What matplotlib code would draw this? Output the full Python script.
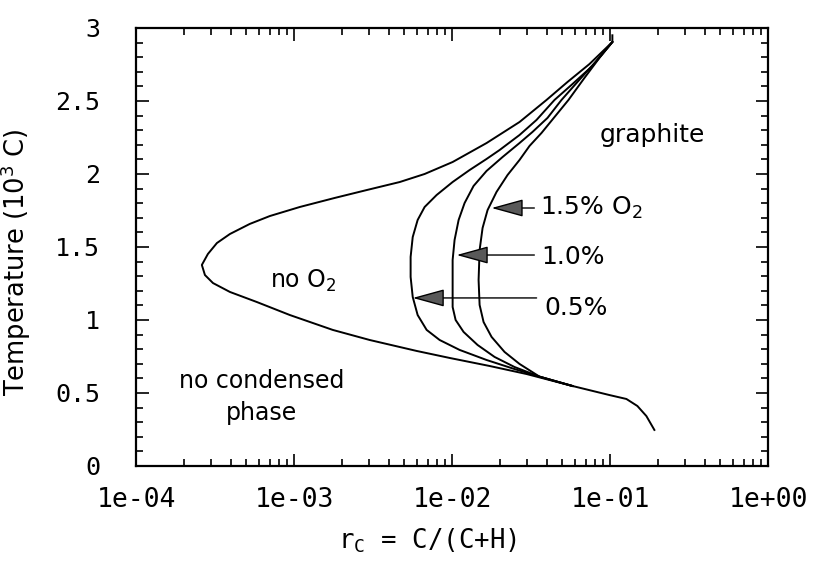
import matplotlib
matplotlib.use("Agg")
import matplotlib.pyplot as plt
import matplotlib.ticker as ticker

# Carbon fraction r_C and temperature (10^3 C).
no_o2_r = [0.1035, 0.1035, 0.0741, 0.0538, 0.03963, 0.02675, 0.01655, 0.01009,
           0.00671, 0.00467, 0.002885, 0.001811, 0.001088, 0.000703, 0.000525, 0.000393,
           0.000325, 0.000285, 0.000261, 0.000273, 0.000307, 0.000393, 0.000582, 0.000941,
           0.001759, 0.003013, 0.005972, 0.00966, 0.01729, 0.02962, 0.05785, 0.0991,
           0.1270, 0.1490, 0.1699, 0.1909]
no_o2_t = [2.95, 2.904, 2.753, 2.630, 2.507, 2.356, 2.212, 2.082,
           2.000, 1.945, 1.890, 1.836, 1.774, 1.712, 1.658, 1.589,
           1.527, 1.452, 1.377, 1.308, 1.253, 1.192, 1.123, 1.034,
           0.932, 0.863, 0.788, 0.740, 0.685, 0.630, 0.548, 0.486,
           0.459, 0.411, 0.342, 0.247]

o2_05_r = [0.1035, 0.0774, 0.05785, 0.04453, 0.03425, 0.02675, 0.0200, 0.01655, 0.01292,
           0.01009, 0.00799, 0.00671, 0.00606, 0.00564, 0.00547, 0.00547, 0.00564, 0.00606,
           0.00691, 0.00835, 0.01117, 0.01655, 0.02487, 0.03579, 0.05785]
o2_05_t = [2.904, 2.740, 2.616, 2.507, 2.370, 2.267, 2.164, 2.103, 2.027,
           1.945, 1.856, 1.774, 1.685, 1.568, 1.432, 1.295, 1.158, 1.034,
           0.932, 0.863, 0.795, 0.726, 0.664, 0.612, 0.548]

o2_10_r = [0.1035, 0.0808, 0.0622, 0.04930, 0.04021, 0.03232, 0.02675, 0.02088, 0.01655,
           0.01369, 0.01201, 0.01101, 0.01038, 0.01009, 0.01009, 0.01009, 0.01054, 0.01184,
           0.01451, 0.01859, 0.02487, 0.03579, 0.05785]
o2_10_t = [2.904, 2.767, 2.630, 2.507, 2.384, 2.288, 2.212, 2.116, 2.021,
           1.918, 1.801, 1.685, 1.548, 1.411, 1.240, 1.089, 1.000, 0.918,
           0.829, 0.747, 0.678, 0.612, 0.548]

o2_15_r = [0.1035, 0.0857, 0.0689, 0.05458, 0.04453, 0.03685, 0.03094, 0.02675, 0.02246,
           0.01913, 0.01679, 0.01561, 0.01495, 0.01473, 0.01495, 0.01584, 0.01780, 0.02151,
           0.02675, 0.03579, 0.05785]
o2_15_t = [2.904, 2.795, 2.658, 2.507, 2.390, 2.281, 2.192, 2.096, 1.993,
           1.877, 1.753, 1.630, 1.479, 1.274, 1.103, 0.986, 0.884, 0.781,
           0.699, 0.612, 0.548]

# Arrow labels: text, arrow tip, arrow tail, text anchor (left, baseline)
arrow_labels = ["1.5% O$_2$", "1.0%", "0.5%"]
arrow_tips = [(0.0178, 1.767), (0.0107, 1.445), (0.00564, 1.151)]
arrow_tails = [(0.0332, 1.767), (0.0332, 1.445), (0.0343, 1.151)]
label_pos = [(0.0358, 1.719), (0.0369, 1.384), (0.0385, 1.034)]

x_ticks = [1e-4, 1e-3, 1e-2, 1e-1, 1e0]
x_tick_labels = ["1e-04", "1e-03", "1e-02", "1e-01", "1e+00"]
y_ticks = [0, 0.5, 1, 1.5, 2, 2.5, 3]
y_tick_labels = ["0", "0.5", "1", "1.5", "2", "2.5", "3"]

fig = plt.figure(figsize=(8.14, 5.63), dpi=100)
ax = fig.add_axes([0.1671, 0.1723, 0.7764, 0.778])

for r, t in [(no_o2_r, no_o2_t), (o2_05_r, o2_05_t), (o2_10_r, o2_10_t), (o2_15_r, o2_15_t)]:
    ax.plot(r, t, color="black", lw=1.4, solid_joinstyle="round")

ax.set_xscale("log")
ax.set_xlim(1e-4, 1e0)
ax.set_ylim(0, 3)

ax.set_xticks(x_ticks)
ax.set_xticklabels(x_tick_labels, family="DejaVu Sans Mono", fontsize=19)
ax.xaxis.set_minor_locator(ticker.LogLocator(base=10, subs=range(2, 10)))
ax.xaxis.set_minor_formatter(ticker.NullFormatter())
ax.set_yticks(y_ticks)
ax.set_yticklabels(y_tick_labels, family="DejaVu Sans Mono", fontsize=18)
ax.yaxis.set_minor_locator(ticker.MultipleLocator(0.1))

ax.tick_params(which="both", direction="in", top=True, right=True, width=1.2)
ax.tick_params(which="major", length=9)
ax.tick_params(which="minor", length=5)
ax.tick_params(axis="x", which="major", pad=15)
ax.tick_params(axis="y", which="major", pad=26)
for s in ax.spines.values():
    s.set_linewidth(1.6)

ax.set_xlabel(r"r$_\mathregular{C}$ = C/(C+H)", family="DejaVu Sans Mono", fontsize=18.5)
ax.xaxis.set_label_coords(0.462, -0.138)
ax.set_ylabel("Temperature (10$^3$ C)", fontsize=18.5)
ax.yaxis.set_label_coords(-0.163, 0.466)

# Region labels
ax.text(0.000703, 1.219, "no O$_2$", fontsize=17, va="baseline", ha="left")
ax.text(0.1854, 2.219, "graphite", fontsize=18, va="baseline", ha="center")
ax.text(0.000625, 0.534, "no condensed", fontsize=17, va="baseline", ha="center")
ax.text(0.000625, 0.315, "phase", fontsize=17, va="baseline", ha="center")

for lab, tip, tail, pos in zip(arrow_labels, arrow_tips, arrow_tails, label_pos):
    ax.annotate("", xy=tip, xytext=tail,
                arrowprops=dict(arrowstyle="-|>,head_length=2.0,head_width=0.55",
                                mutation_scale=10, lw=1.0, ec="black", fc="0.35",
                                shrinkA=0, shrinkB=0))
    ax.text(pos[0], pos[1], lab, fontsize=18, va="baseline", ha="left")

fig.savefig("out.png", dpi=100)
